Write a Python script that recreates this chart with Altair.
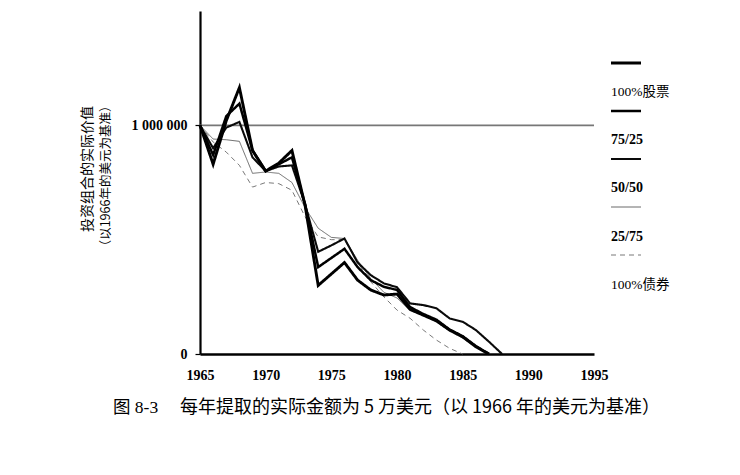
import altair as alt
import pandas as pd

series_names = ["100%股票", "75/25", "50/50", "25/75", "100%债券"]

years_stocks100 = list(range(1965, 1988))
stocks100 = [1000000, 830000, 1020000, 1165000, 890000, 800000, 835000, 890000, 650000,
             300000, 350000, 400000, 323000, 280000, 258000, 262000, 195000, 170000,
             145000, 105000, 75000, 32000, 0]

years_75 = list(range(1965, 1988))
mix75 = [1000000, 870000, 1040000, 1095000, 890000, 800000, 830000, 860000, 655000,
         380000, 420000, 460000, 380000, 323000, 294000, 280000, 205000, 175000,
         150000, 107000, 78000, 35000, 0]

years_50 = list(range(1965, 1989))
mix50 = [1000000, 900000, 990000, 1015000, 860000, 800000, 820000, 825000, 655000,
         447000, 475000, 505000, 400000, 345000, 309000, 292000, 221000, 214000,
         200000, 156000, 141000, 105000, 54000, 0]

years_25 = list(range(1965, 1988))
mix25 = [1000000, 940000, 937000, 930000, 790000, 796000, 790000, 750000, 640000,
         550000, 510000, 505000, 410000, 330000, 270000, 245000, 190000, 168000,
         140000, 100000, 70000, 30000, 0]

years_bonds = list(range(1965, 1986))
bonds100 = [1000000, 927000, 883000, 825000, 730000, 750000, 745000, 716000, 600000,
            512000, 500000, 500000, 400000, 316000, 250000, 192000, 156000, 105000,
            61000, 25000, 0]

x_ticks = [1965, 1970, 1975, 1980, 1985, 1990, 1995]
y_ticks = [0, 1000000]
reference_value = 1000000

y_title_lines = ["投资组合的实际价值", "（以1966年的美元为基准）"]
caption_label = "图 8-3"
caption_text = "每年提取的实际金额为 5 万美元（以 1966 年的美元为基准）"

# ---- styles ----
series_colors = ["#000000", "#000000", "#0a0a0a", "#5a5a5a", "#6a6a6a"]
series_widths = [2.9, 2.5, 2.1, 0.9, 0.9]
series_dashes = [[1, 0], [1, 0], [1, 0], [1, 0], [5, 4]]

rows = []
for name, ys, vs in [("100%债券", years_bonds, bonds100), ("25/75", years_25, mix25),
                     ("50/50", years_50, mix50), ("75/25", years_75, mix75),
                     ("100%股票", years_stocks100, stocks100)]:
    for y, v in zip(ys, vs):
        rows.append({"series": name, "year": y, "value": v})
df = pd.DataFrame(rows)

color_scale = alt.Scale(type="ordinal", domain=series_names, range=series_colors)
width_scale = alt.Scale(type="ordinal", domain=series_names, range=series_widths)
dash_scale = alt.Scale(type="ordinal", domain=series_names, range=series_dashes)

SERIF = "Liberation Serif"
CJK = "Noto Sans CJK SC"

x_enc = alt.X("year:Q", scale=alt.Scale(domain=[1965, 1995], nice=False, zero=False),
              axis=alt.Axis(values=x_ticks, format="d", title=None, ticks=False,
                            labelFlush=False, labelOverlap=False,
                            labelPadding=14, labelFont=SERIF, labelFontWeight="bold",
                            labelFontSize=14, labelColor="black", domainColor="black",
                            domainWidth=2.5, grid=False))
y_enc = alt.Y("value:Q", scale=alt.Scale(domain=[0, 1500000], nice=False),
              axis=alt.Axis(values=y_ticks, title=None, tickSize=5, tickColor="black",
                            tickWidth=1.2, labelPadding=8, labelFont=SERIF,
                            labelFontWeight="bold", labelFontSize=14, labelColor="black",
                            labelFlush=False,
                            labelExpr="datum.value == 0 ? '0' : '1 000 000'",
                            domainColor="black", domainWidth=2.2, grid=False))

base = alt.Chart(df)

ref = alt.Chart(pd.DataFrame({"v": [reference_value]})).mark_rule(
    color="#777777", strokeWidth=1.6).encode(
    y=alt.Y("v:Q", scale=alt.Scale(domain=[0, 1500000], nice=False)))

lines = base.mark_line(strokeCap="butt", strokeJoin="miter").encode(
    x=x_enc, y=y_enc,
    detail="series:N",
    color=alt.Color("series:N", scale=color_scale, legend=None),
    strokeWidth=alt.StrokeWidth("series:N", scale=width_scale, legend=None),
    strokeDash=alt.StrokeDash("series:N", scale=dash_scale, legend=None),
)

# ---- custom legend: line above label, stacked on the right ----
leg_df = pd.DataFrame({"series": series_names, "i": list(range(len(series_names)))})
leg_base = alt.Chart(leg_df).transform_calculate(
    ly="52 + datum.i * 48", ty="81 + datum.i * 48.2")
leg_lines = leg_base.mark_rule().encode(
    x=alt.value(411), x2=alt.value(441),
    y=alt.Y("ly:Q", scale=None),
    color=alt.Color("series:N", scale=color_scale, legend=None),
    strokeWidth=alt.StrokeWidth("series:N", scale=width_scale, legend=None),
    strokeDash=alt.StrokeDash("series:N", scale=dash_scale, legend=None),
)
leg_text_cn = leg_base.transform_filter("datum.i == 0 || datum.i == 4").mark_text(
    align="left", baseline="middle", font=SERIF + ", " + CJK, fontSize=13.5,
    color="black").encode(x=alt.value(411), y=alt.Y("ty:Q", scale=None), text="series:N")
leg_text_num = leg_base.transform_filter("datum.i > 0 && datum.i < 4").mark_text(
    align="left", baseline="middle", font=SERIF, fontSize=14, fontWeight="bold",
    color="black").encode(x=alt.value(411), y=alt.Y("ty:Q", scale=None), text="series:N")

# ---- y title (two rotated lines) and caption ----
ytitle_df = pd.DataFrame({"t": y_title_lines, "k": [0, 1]})
ytitle1 = alt.Chart(ytitle_df).transform_filter("datum.k == 0").mark_text(
    angle=270, align="center", baseline="middle", font=CJK, fontSize=14, color="black"
).encode(x=alt.value(-112), y=alt.value(158), text="t:N")
ytitle2 = alt.Chart(ytitle_df).transform_filter("datum.k == 1").mark_text(
    angle=270, align="center", baseline="middle", font=CJK, fontSize=12.5, color="black"
).encode(x=alt.value(-94), y=alt.value(165), text="t:N")

cap_df = pd.DataFrame({"t": [caption_label, caption_text], "k": [0, 1]})
cap1 = alt.Chart(cap_df).transform_filter("datum.k == 0").mark_text(
    align="left", baseline="middle", font=SERIF + ", " + CJK, fontSize=17.5, color="black"
).encode(x=alt.value(-87), y=alt.value(397), text="t:N")
cap2 = alt.Chart(cap_df).transform_filter("datum.k == 1").mark_text(
    align="left", baseline="middle", font=CJK, fontSize=18, color="black"
).encode(x=alt.value(-20), y=alt.value(397), text="t:N")

chart = alt.layer(ref, lines, leg_lines, leg_text_cn, leg_text_num,
                  ytitle1, ytitle2, cap1, cap2).properties(
    width=394, height=343,
    autosize=alt.AutoSizeParams(type="none"),
    padding={"left": 192, "top": 3, "right": 130, "bottom": 90},
    background="white",
).configure_view(stroke=None)

chart.save("out.html", embed_options={"renderer": "svg", "actions": False})
